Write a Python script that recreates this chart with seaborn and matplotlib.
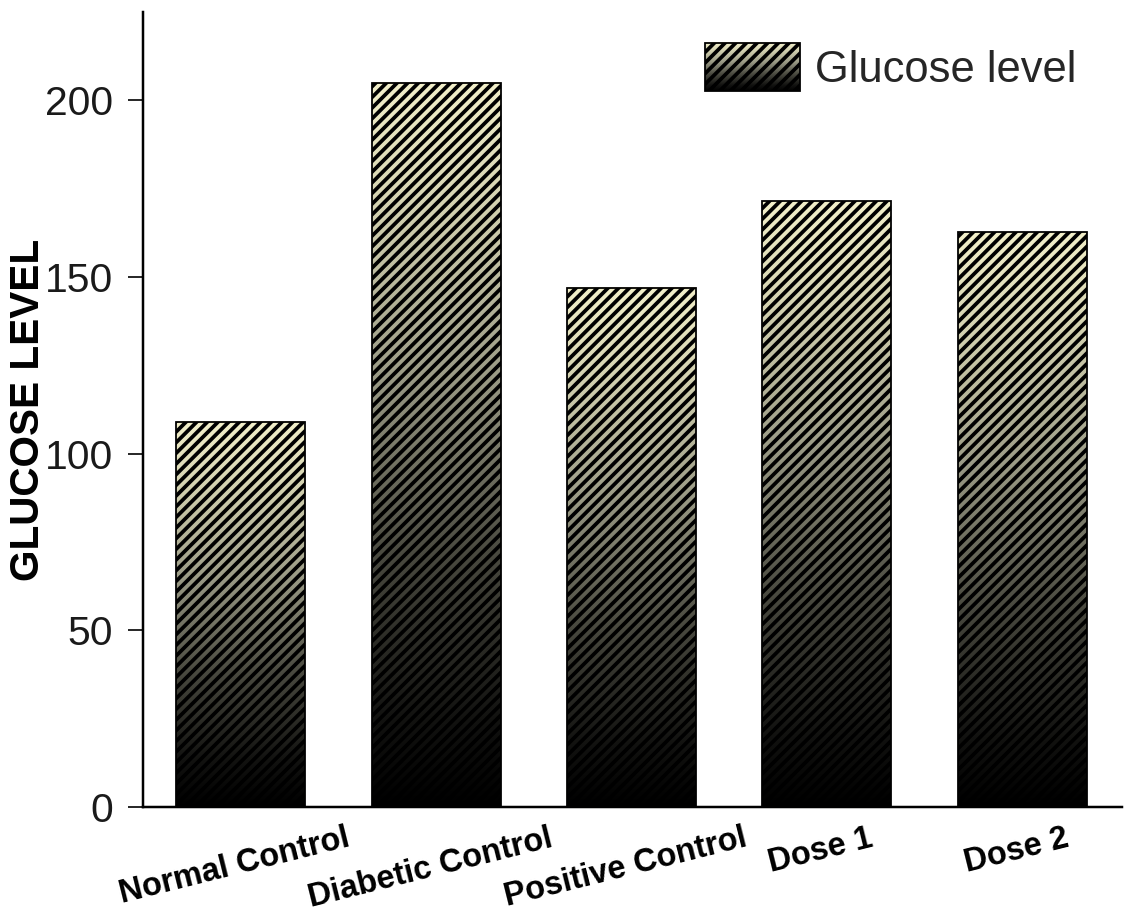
import numpy as np
import pandas as pd
import matplotlib
matplotlib.use("Agg")
import matplotlib.pyplot as plt
import seaborn as sns
from matplotlib.colors import LinearSegmentedColormap
from matplotlib.patches import Rectangle
from matplotlib.image import BboxImage
from matplotlib.transforms import Bbox, TransformedBbox, ScaledTranslation

categories = ["Normal Control", "Diabetic Control", "Positive Control", "Dose 1", "Dose 2"]
glucose = [109, 205, 147, 171.5, 162.7]
y_ticks = [0, 50, 100, 150, 200]
series_name = "Glucose level"

sns.set_style("ticks")
plt.rcParams["font.family"] = ["Liberation Sans", "DejaVu Sans"]
plt.rcParams["hatch.linewidth"] = 2.1
plt.rcParams["hatch.color"] = "black"

DPI = 128
fig = plt.figure(figsize=(1124 / DPI, 919 / DPI), dpi=DPI)
ax = fig.add_axes([143 / 1124, 1 - 807 / 919, (1122 - 143) / 1124, (807 - 12) / 919])

df = pd.DataFrame({"group": categories, "value": glucose})
sns.barplot(data=df, x="group", y="value", width=0.66, color="white", ax=ax, zorder=2)

cmap = LinearSegmentedColormap.from_list(
    "grad",
    [(0.0, "#000000"), (0.12, "#121210"), (0.35, "#4a4a40"),
     (0.6, "#9c9c87"), (0.85, "#d8d6b4"), (1.0, "#f2efc9")],
)
grad = np.linspace(0, 1, 256).reshape(-1, 1)
HATCH = "////"

for p in ax.patches:
    x0, w, h = p.get_x(), p.get_width(), p.get_height()
    ax.imshow(grad, cmap=cmap, extent=[x0, x0 + w, 0, h], origin="lower",
              aspect="auto", interpolation="bicubic", zorder=1)
    p.set_facecolor("none")
    p.set_edgecolor("black")
    p.set_hatch(HATCH)
    p.set_linewidth(1.0)
    p.set_zorder(2)


class GradHandler:
    def legend_artist(self, legend, orig_handle, fontsize, handlebox):
        x0, y0 = handlebox.xdescent, handlebox.ydescent
        w, h = handlebox.width, handlebox.height
        bbox = TransformedBbox(Bbox.from_bounds(-x0, -y0, w, h), handlebox.get_transform())
        img = BboxImage(bbox, cmap=cmap, interpolation="bicubic", origin="lower")
        img.set_data(grad)
        handlebox.add_artist(img)
        rect = Rectangle((-x0, -y0), w, h, facecolor="none", edgecolor="black",
                         hatch=HATCH, linewidth=1.0, transform=handlebox.get_transform())
        handlebox.add_artist(rect)
        return rect


proxy = Rectangle((0, 0), 1, 1, label=series_name)
ax.legend(handles=[proxy], labels=[series_name], handler_map={Rectangle: GradHandler()},
          loc="upper left", bbox_to_anchor=(705 / 1124, 1 - 43 / 919),
          bbox_transform=fig.transFigure, frameon=False, fontsize=24.5,
          handlelength=2.18, handleheight=1.32, handletextpad=0.34,
          borderpad=0, borderaxespad=0)

ax.set_xlim(-0.5, 4.51)
ax.set_ylim(0, 225)
ax.set_yticks(y_ticks)
ax.set_xlabel("")
ax.set_ylabel("GLUCOSE LEVEL", fontsize=22.8, fontweight="bold", color="black")
ax.yaxis.set_label_coords(-0.098, 0.5)

for s in ["top", "right"]:
    ax.spines[s].set_visible(False)
for s in ["left", "bottom"]:
    ax.spines[s].set_linewidth(1.4)
    ax.spines[s].set_color("black")

ax.tick_params(axis="y", length=8.4, width=1.1, pad=8.3, labelsize=23, labelcolor="#1a1a1a")
ax.tick_params(axis="x", length=0, pad=9)
shift = ScaledTranslation(-6 / DPI, 0, fig.dpi_scale_trans)
for lab in ax.get_xticklabels():
    lab.set_rotation(14)
    lab.set_fontsize(18.3)
    lab.set_fontweight("bold")
    lab.set_color("black")
    lab.set_ha("center")
    lab.set_transform(lab.get_transform() + shift)

fig.savefig("out.png", dpi=DPI, facecolor="white")
